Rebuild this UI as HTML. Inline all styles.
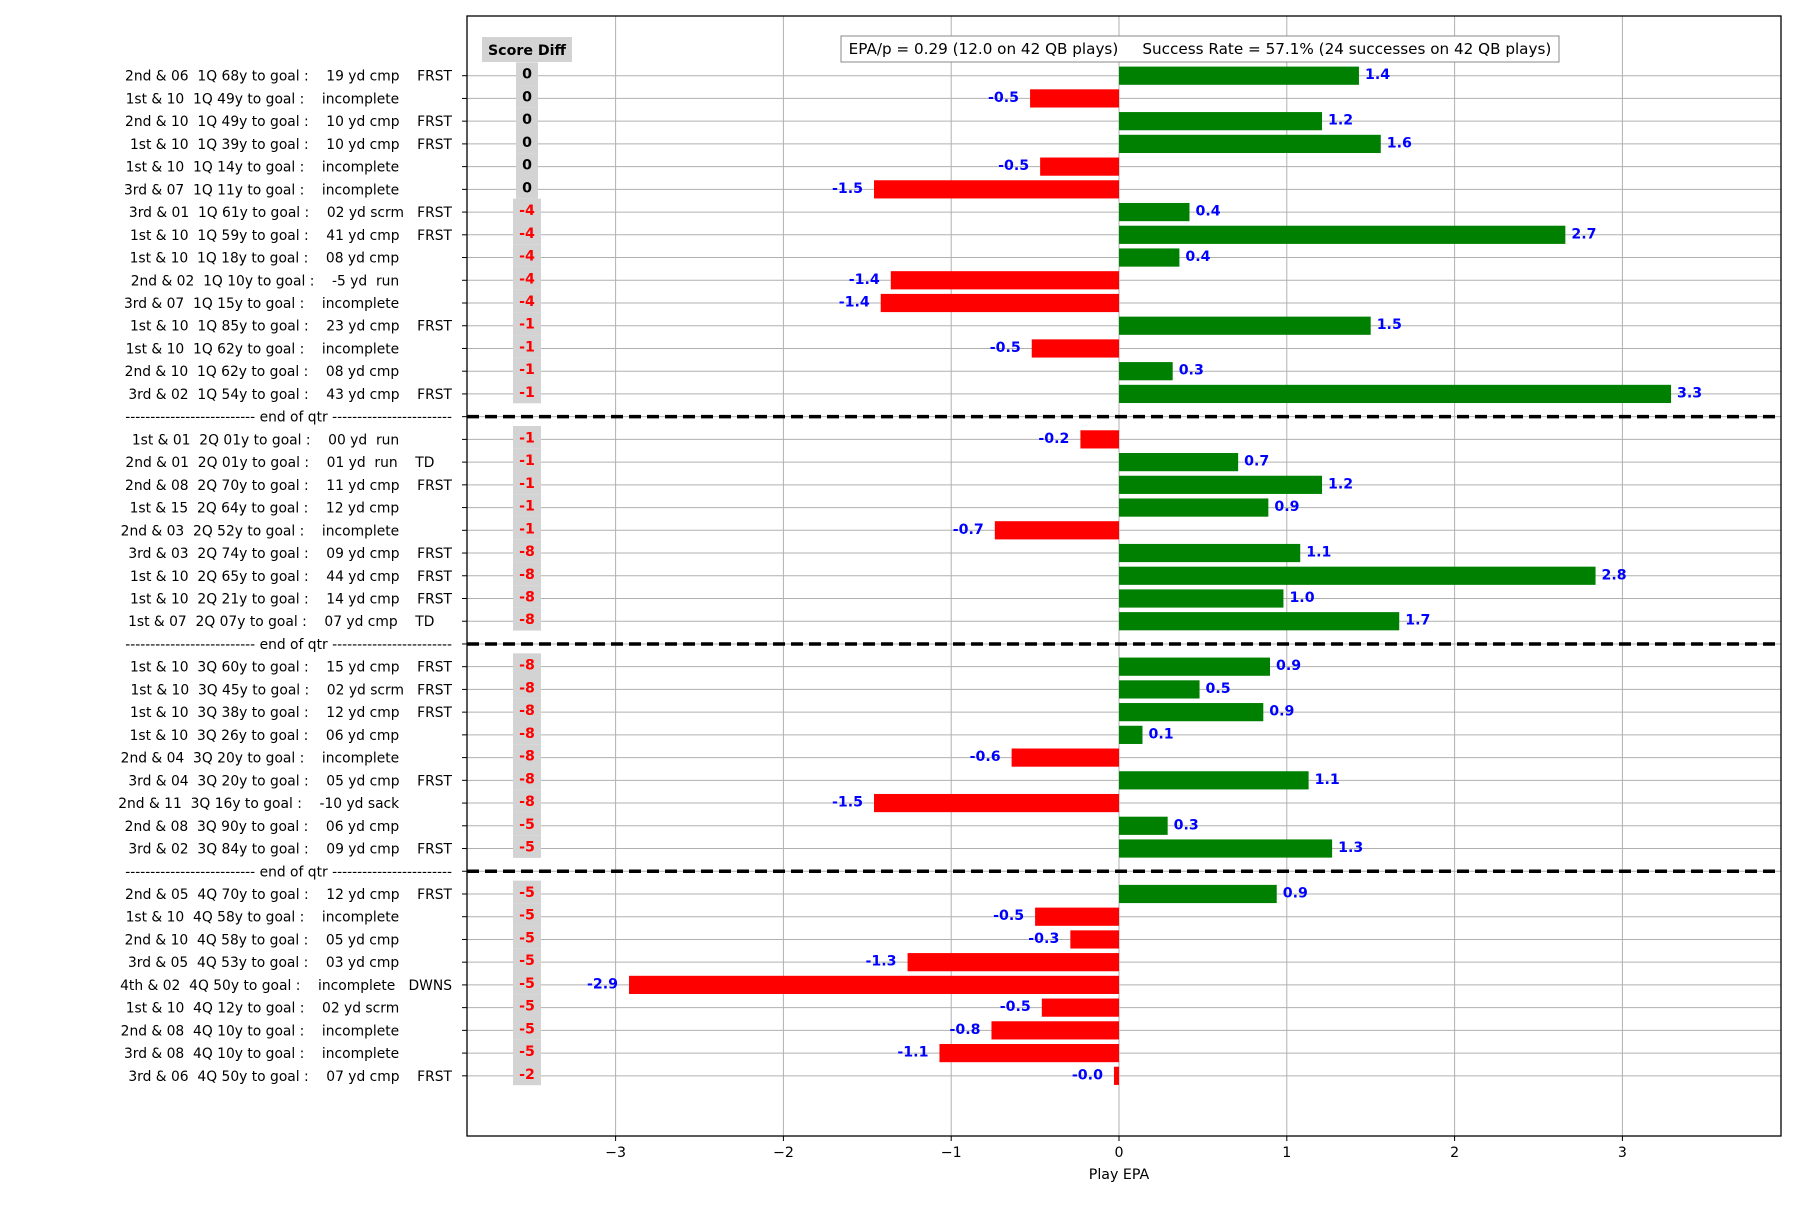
<!DOCTYPE html>
<html><head><meta charset="utf-8"><style>
html,body{margin:0;padding:0;background:#fff;}
svg text{font-family:"DejaVu Sans","Liberation Sans",sans-serif;}
</style></head><body>
<svg id="s" width="1800" height="1200" xmlns="http://www.w3.org/2000/svg"></svg>
<script>
const S=document.getElementById('s');
const NS='http://www.w3.org/2000/svg';
function el(t,a,txt){const e=document.createElementNS(NS,t);for(const k in a)e.setAttribute(k,a[k]);if(txt!==undefined)e.textContent=txt;S.appendChild(e);return e;}
const L=467,R=1781,T=16,B=1136,X0=1119,U=167.8,Y0=75.7,STEP=22.73;
const x=v=>X0+v*U;
const NS12='            ';
const rows=[
["2nd & 06  1Q 68y to goal :    19 yd cmp    FRST","0",1.43],
["1st & 10  1Q 49y to goal :    incomplete"+NS12,"0",-0.53],
["2nd & 10  1Q 49y to goal :    10 yd cmp    FRST","0",1.21],
["1st & 10  1Q 39y to goal :    10 yd cmp    FRST","0",1.56],
["1st & 10  1Q 14y to goal :    incomplete"+NS12,"0",-0.47],
["3rd & 07  1Q 11y to goal :    incomplete"+NS12,"0",-1.46],
["3rd & 01  1Q 61y to goal :    02 yd scrm   FRST","-4",0.42],
["1st & 10  1Q 59y to goal :    41 yd cmp    FRST","-4",2.66],
["1st & 10  1Q 18y to goal :    08 yd cmp"+NS12,"-4",0.36],
["2nd & 02  1Q 10y to goal :    -5 yd  run"+NS12,"-4",-1.36],
["3rd & 07  1Q 15y to goal :    incomplete"+NS12,"-4",-1.42],
["1st & 10  1Q 85y to goal :    23 yd cmp    FRST","-1",1.5],
["1st & 10  1Q 62y to goal :    incomplete"+NS12,"-1",-0.52],
["2nd & 10  1Q 62y to goal :    08 yd cmp"+NS12,"-1",0.32],
["3rd & 02  1Q 54y to goal :    43 yd cmp    FRST","-1",3.29],
null,
["1st & 01  2Q 01y to goal :    00 yd  run"+NS12,"-1",-0.23],
["2nd & 01  2Q 01y to goal :    01 yd  run    TD    ","-1",0.71],
["2nd & 08  2Q 70y to goal :    11 yd cmp    FRST","-1",1.21],
["1st & 15  2Q 64y to goal :    12 yd cmp"+NS12,"-1",0.89],
["2nd & 03  2Q 52y to goal :    incomplete"+NS12,"-1",-0.74],
["3rd & 03  2Q 74y to goal :    09 yd cmp    FRST","-8",1.08],
["1st & 10  2Q 65y to goal :    44 yd cmp    FRST","-8",2.84],
["1st & 10  2Q 21y to goal :    14 yd cmp    FRST","-8",0.98],
["1st & 07  2Q 07y to goal :    07 yd cmp    TD    ","-8",1.67],
null,
["1st & 10  3Q 60y to goal :    15 yd cmp    FRST","-8",0.9],
["1st & 10  3Q 45y to goal :    02 yd scrm   FRST","-8",0.48],
["1st & 10  3Q 38y to goal :    12 yd cmp    FRST","-8",0.86],
["1st & 10  3Q 26y to goal :    06 yd cmp"+NS12,"-8",0.14],
["2nd & 04  3Q 20y to goal :    incomplete"+NS12,"-8",-0.64],
["3rd & 04  3Q 20y to goal :    05 yd cmp    FRST","-8",1.13],
["2nd & 11  3Q 16y to goal :    -10 yd sack"+NS12,"-8",-1.46],
["2nd & 08  3Q 90y to goal :    06 yd cmp"+NS12,"-5",0.29],
["3rd & 02  3Q 84y to goal :    09 yd cmp    FRST","-5",1.27],
null,
["2nd & 05  4Q 70y to goal :    12 yd cmp    FRST","-5",0.94],
["1st & 10  4Q 58y to goal :    incomplete"+NS12,"-5",-0.5],
["2nd & 10  4Q 58y to goal :    05 yd cmp"+NS12,"-5",-0.29],
["3rd & 05  4Q 53y to goal :    03 yd cmp"+NS12,"-5",-1.26],
["4th & 02  4Q 50y to goal :    incomplete   DWNS","-5",-2.92],
["1st & 10  4Q 12y to goal :    02 yd scrm"+NS12,"-5",-0.46],
["2nd & 08  4Q 10y to goal :    incomplete"+NS12,"-5",-0.76],
["3rd & 08  4Q 10y to goal :    incomplete"+NS12,"-5",-1.07],
["3rd & 06  4Q 50y to goal :    07 yd cmp    FRST","-2",-0.03]
];
for(let v=-3;v<=3;v++){el('line',{x1:x(v),x2:x(v),y1:T,y2:B,stroke:'#b0b0b0','stroke-width':1});}
rows.forEach((r,i)=>{const y=Y0+i*STEP;
 el('line',{x1:L,x2:R,y1:y,y2:y,stroke:'#b0b0b0','stroke-width':1});
 el('line',{x1:L-5,x2:L,y1:y,y2:y,stroke:'#000','stroke-width':1});
 const t=el('text',{x:452,y:y+5,'text-anchor':'end','font-size':'13.85',fill:'#000'}, r?r[0]:"-------------------------- end of qtr ------------------------");
 t.setAttribute('xml:space','preserve');t.style.whiteSpace='pre';
});
rows.forEach((r,i)=>{if(!r)return;const y=Y0+i*STEP;const v=r[2];
 const x1=Math.min(x(0),x(v)),w=Math.abs(x(v)-x(0));
 el('rect',{x:x1,y:y-9.1,width:Math.max(w,1),height:18.2,fill:v>=0?'#008000':'#ff0000'});
 const lbl=v.toFixed(1);
 if(v>=0)el('text',{x:x(v)+6,y:y+3.5,'font-size':'14.2','font-weight':'bold',fill:'#0000ff'},lbl);
 else el('text',{x:x(v)-11,y:y+3.5,'font-size':'14.2','font-weight':'bold',fill:'#0000ff','text-anchor':'end'},lbl);
});
rows.forEach((r,i)=>{if(r)return;const y=Y0+i*STEP;
 el('line',{x1:L,x2:R,y1:y,y2:y,stroke:'#000','stroke-width':3.5,'stroke-dasharray':'12 6'});});
rows.forEach((r,i)=>{if(!r)return;const y=Y0+i*STEP-2;const z=r[1]==="0";
 el('rect',{x:z?516:513,y:y-STEP/2,width:z?22:28,height:STEP,fill:'#d3d3d3'});
 el('text',{x:527,y:y+5,'text-anchor':'middle','font-size':'14.2','font-weight':'bold',fill:z?'#000':'#ff0000'},r[1]);
});
el('rect',{x:482,y:37,width:90,height:25,fill:'#d3d3d3'});
el('text',{x:527,y:55,'text-anchor':'middle','font-size':'14.2','font-weight':'bold'},'Score Diff');
el('rect',{x:841,y:36,width:718,height:26,fill:'#fff',stroke:'#888','stroke-width':1});
const lt=el('text',{x:1200,y:54,'text-anchor':'middle','font-size':'15.2'},'EPA/p = 0.29 (12.0 on 42 QB plays)     Success Rate = 57.1% (24 successes on 42 QB plays)');
lt.setAttribute('xml:space','preserve');lt.style.whiteSpace='pre';
el('rect',{x:L,y:T,width:R-L,height:B-T,fill:'none',stroke:'#000','stroke-width':1.3});
for(let v=-3;v<=3;v++){el('line',{x1:x(v),x2:x(v),y1:B,y2:B+5,stroke:'#000','stroke-width':1});
 el('text',{x:x(v),y:B+21,'text-anchor':'middle','font-size':'14.2'},v<0?'\u2212'+(-v):String(v));}
el('text',{x:X0,y:B+43,'text-anchor':'middle','font-size':'14.2'},'Play EPA');
</script>
</body></html>
